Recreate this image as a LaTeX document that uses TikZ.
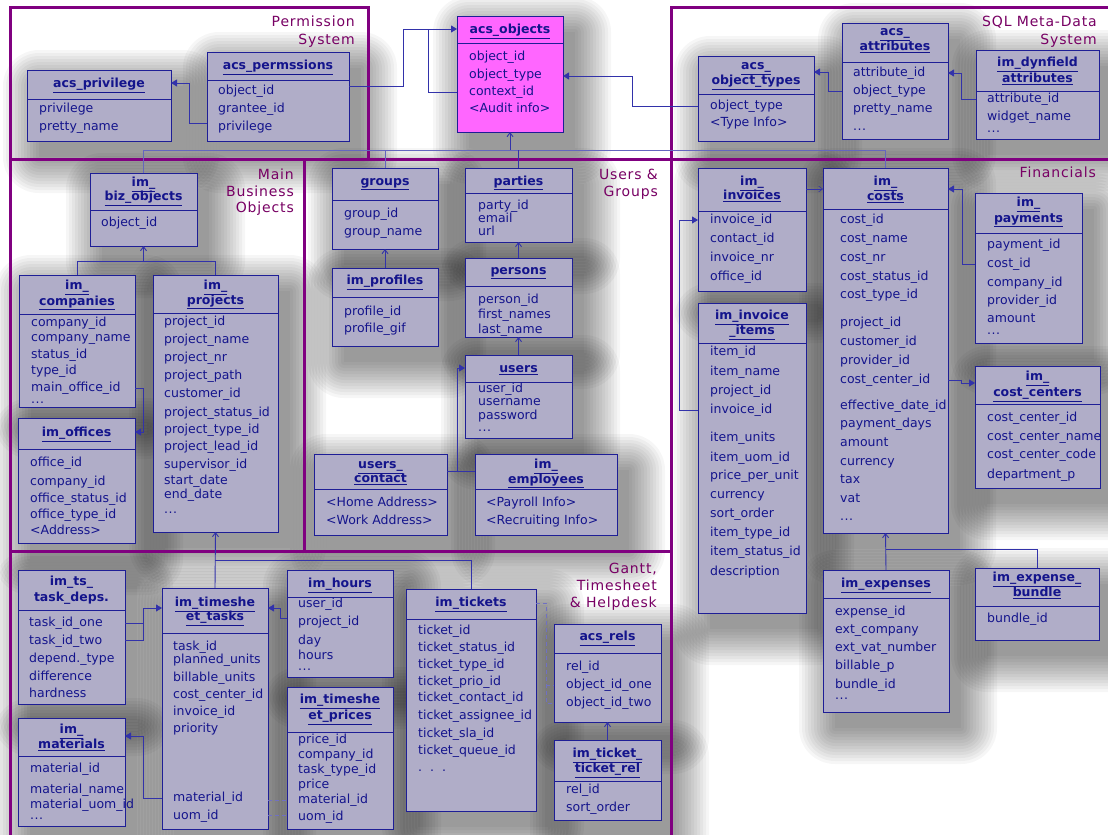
\documentclass[tikz,border=0pt]{standalone}
\usepackage{fontspec}
\setmainfont{DejaVu Sans}
\newfontfamily\secfont[LetterSpace=6]{DejaVu Sans}
\usetikzlibrary{arrows.meta}

\definecolor{boxfill}{RGB}{176,173,200}
\definecolor{boxline}{RGB}{30,30,150}
\definecolor{ink}{RGB}{20,20,140}
\definecolor{objfill}{RGB}{255,102,255}
\definecolor{framecol}{RGB}{128,0,128}
\definecolor{sectink}{RGB}{120,0,100}
\definecolor{linkcol}{RGB}{50,50,170}

\pgfdeclarelayer{bg}
\pgfdeclarelayer{shade}
\pgfsetlayers{bg,shade,main}

\tikzset{
  ebox/.style={draw=boxline, line width=1pt, fill=boxfill, inner sep=0pt, outer sep=0pt},
  softshade/.style={fill=black, fill opacity=0.034},
  eline/.style={draw=boxline, line width=1pt},
  hdr/.style={font=\fontsize{12.5}{14}\selectfont\bfseries, text=ink, inner sep=0pt,
    text height=1.5ex, text depth=.25ex},
  fld/.style={font=\fontsize{12.5}{14}\selectfont, text=ink, anchor=west, inner sep=0pt,
    text height=1.5ex, text depth=.25ex},
  sect/.style={font=\secfont\fontsize{14}{17}\selectfont, text=sectink, anchor=base east, inner sep=0pt},
  frameline/.style={draw=framecol, line width=3pt, line cap=rect},
  link/.style={draw=linkcol, line width=0.9pt},
  bus/.style={draw=linkcol!75, line width=0.9pt},
  fk/.style={link, -{Triangle[length=6pt,width=7pt]}},
  isa/.style={link, -{Straight Barb[length=4pt,width=6pt]}},
  ref/.style={draw=linkcol!70, line width=0.8pt, dash pattern=on 4pt off 3pt},
}

% table box: name, x1, y1, x2, y2, divider y, extra style
\newcommand\tbl[7]{%
  \begin{pgfonlayer}{shade}
    \foreach \r in {0,3,...,36}
      \fill[softshade, rounded corners=\r pt] ({#2+12-\r},{#3+16-\r}) rectangle ({#4+12+\r},{#5+16+\r});
  \end{pgfonlayer}
  \node[ebox,#7, anchor=north west, minimum width={(#4-#2)*1pt}, minimum height={(#5-#3)*1pt}] (#1) at (#2,#3) {};
  \draw[eline] (#2,#6) -- (#4,#6);}
% column list: name, x, {y/text, ...}
\newcommand\flds[3]{\foreach \yy/\txt [count=\k] in {#3} {\node[fld] (#1-\k) at (#2,\yy) {\txt};}}
\newcommand\hl[1]{\underline{#1}}
\newcommand\more{.\kern0.5pt.\kern0.5pt.}
\newcommand\spdots{.\ \ .\ \ .}

\begin{document}
\begin{tikzpicture}[x=1pt,y=-1pt]
\useasboundingbox (0,0) rectangle (1108,835);
\begin{pgfonlayer}{bg}
  \fill[white] (0,0) rectangle (1108,835);
\end{pgfonlayer}

% ---------- Permission System ----------
\tbl{acspriv}{27}{70}{171}{141}{99}{}
\node[hdr] (acspriv-h) at (acspriv.north |- 0,84) {\hl{acs\_privilege}};
\flds{acspriv}{39}{109/privilege, 127/pretty\_name}

\tbl{acsperm}{207}{52}{349}{141}{80}{}
\node[hdr] (acsperm-h) at (acsperm.north |- 0,66) {\hl{acs\_permssions}};
\flds{acsperm}{218}{91/object\_id, 109/grantee\_id, 127/privilege}

\tbl{acsobj}{457}{16}{563}{132}{43}{fill=objfill}
\node[hdr] (acsobj-h) at (acsobj.north |- 0,30) {\hl{acs\_objects}};
\flds{acsobj}{469}{57/object\_id, 75/object\_type, 92/context\_id, 109/<Audit info>}

% ---------- SQL Meta-Data System ----------
\tbl{acstypes}{698}{56}{814}{141}{94}{}
\node[hdr] (acstypes-h1) at (acstypes.north |- 0,66) {\hl{acs\_}};
\node[hdr] (acstypes-h2) at (acstypes.north |- 0,81) {\hl{object\_types}};
\flds{acstypes}{710}{106/object\_type, 123/<Type Info>}

\tbl{acsattr}{842}{23}{948}{139}{62}{}
\node[hdr] (acsattr-h1) at (acsattr.north |- 0,32) {\hl{acs\_}};
\node[hdr] (acsattr-h2) at (acsattr.north |- 0,47) {\hl{attributes}};
\flds{acsattr}{853}{73/attribute\_id, 91/object\_type, 109/pretty\_name, 127/\more}

\tbl{dynattr}{976}{50}{1099}{139}{91}{}
\node[hdr] (dynattr-h1) at (dynattr.north |- 0,63) {\hl{im\_dynfield}};
\node[hdr] (dynattr-h2) at (dynattr.north |- 0,79) {\hl{attributes}};
\flds{dynattr}{987}{99/attribute\_id, 117/widget\_name, 129/\more}

% ---------- Main Business Objects ----------
\tbl{bizobj}{90}{173}{197}{246}{210}{}
\node[hdr] (bizobj-h1) at (bizobj.north |- 0,183) {\hl{im\_}};
\node[hdr] (bizobj-h2) at (bizobj.north |- 0,197) {\hl{biz\_objects}};
\flds{bizobj}{101}{223/object\_id}

\tbl{companies}{19}{275}{135}{407}{314}{}
\node[hdr] (companies-h1) at (companies.north |- 0,286) {\hl{im\_}};
\node[hdr] (companies-h2) at (companies.north |- 0,302) {\hl{companies}};
\flds{companies}{31}{323/company\_id, 338/company\_name, 355/status\_id, 371/type\_id, 388/main\_office\_id, 400/\more}

\tbl{projects}{153}{275}{278}{532}{313}{}
\node[hdr] (projects-h1) at (projects.north |- 0,286) {\hl{im\_}};
\node[hdr] (projects-h2) at (projects.north |- 0,301) {\hl{projects}};
\flds{projects}{164}{322/project\_id, 340/project\_name, 358/project\_nr, 376/project\_path, 394/customer\_id, 413/project\_status\_id, 430/project\_type\_id, 447/project\_lead\_id, 465/supervisor\_id, 481/start\_date, 495/end\_date, 510/\more}

\tbl{offices}{18}{418}{135}{543}{449}{}
\node[hdr] (offices-h) at (offices.north |- 0,433) {\hl{im\_offices}};
\flds{offices}{30}{463/office\_id, 482/company\_id, 499/office\_status\_id, 515/office\_type\_id, 531/<Address>}

% ---------- Users & Groups ----------
\tbl{groups}{332}{168}{438}{249}{200}{}
\node[hdr] (groups-h) at (groups.north |- 0,182) {\hl{groups}};
\flds{groups}{344}{214/group\_id, 232/group\_name}

\tbl{parties}{465}{168}{572}{242}{193}{}
\node[hdr] (parties-h) at (parties.north |- 0,182) {\hl{parties}};
\flds{parties}{478}{206/party\_id, 219/email, 232/url}

\tbl{profiles}{332}{268}{438}{346}{297}{}
\node[hdr] (profiles-h) at (profiles.north |- 0,281) {\hl{im\_profiles}};
\flds{profiles}{344}{312/profile\_id, 329/profile\_gif}

\tbl{persons}{465}{258}{572}{337}{286}{}
\node[hdr] (persons-h) at (persons.north |- 0,271) {\hl{persons}};
\flds{persons}{478}{300/person\_id, 315/first\_names, 330/last\_name}

\tbl{users}{465}{355}{572}{438}{382}{}
\node[hdr] (users-h) at (users.north |- 0,369) {\hl{users}};
\flds{users}{478}{389/user\_id, 402/username, 416/password, 428/\more}

\tbl{ucontact}{314}{454}{447}{535}{489}{}
\node[hdr] (ucontact-h1) at (ucontact.north |- 0,465) {\hl{users\_}};
\node[hdr] (ucontact-h2) at (ucontact.north |- 0,479) {\hl{contact}};
\flds{ucontact}{326}{503/<Home Address>, 521/<Work Address>}

\tbl{employees}{475}{454}{617}{535}{489}{}
\node[hdr] (employees-h1) at (employees.north |- 0,465) {\hl{im\_}};
\node[hdr] (employees-h2) at (employees.north |- 0,480) {\hl{employees}};
\flds{employees}{486}{503/<Payroll Info>, 521/<Recruiting Info>}

% ---------- Financials ----------
\tbl{invoices}{698}{168}{806}{291}{211}{}
\node[hdr] (invoices-h1) at (invoices.north |- 0,182) {\hl{im\_}};
\node[hdr] (invoices-h2) at (invoices.north |- 0,196) {\hl{invoices}};
\flds{invoices}{710}{220/invoice\_id, 239/contact\_id, 258/invoice\_nr, 277/office\_id}

\tbl{invitems}{698}{303}{806}{613}{343}{}
\node[hdr] (invitems-h1) at (invitems.north |- 0,316) {\hl{im\_invoice}};
\node[hdr] (invitems-h2) at (invitems.north |- 0,331) {\hl{\_items}};
\flds{invitems}{710}{352/item\_id, 372/item\_name, 391/project\_id, 410/invoice\_id, 438/item\_units, 458/item\_uom\_id, 476/price\_per\_unit, 495/currency, 514/sort\_order, 533/item\_type\_id, 552/item\_status\_id, 572/description}

\tbl{costs}{823}{168}{948}{533}{209}{}
\node[hdr] (costs-h1) at (costs.north |- 0,182) {\hl{im\_}};
\node[hdr] (costs-h2) at (costs.north |- 0,197) {\hl{costs}};
\flds{costs}{840}{220/cost\_id, 239/cost\_name, 258/cost\_nr, 277/cost\_status\_id, 295/cost\_type\_id, 323/project\_id, 342/customer\_id, 361/provider\_id, 380/cost\_center\_id, 406/effective\_date\_id, 424/payment\_days, 443/amount, 462/currency, 480/tax, 499/vat, 517/\more}

\tbl{payments}{975}{193}{1082}{343}{233}{}
\node[hdr] (payments-h1) at (payments.north |- 0,203) {\hl{im\_}};
\node[hdr] (payments-h2) at (payments.north |- 0,219) {\hl{payments}};
\flds{payments}{987}{245/payment\_id, 264/cost\_id, 283/company\_id, 301/provider\_id, 319/amount, 331/\more}

\tbl{costctr}{975}{366}{1100}{488}{404}{}
\node[hdr] (costctr-h1) at (costctr.north |- 0,377) {\hl{im\_}};
\node[hdr] (costctr-h2) at (costctr.north |- 0,393) {\hl{cost\_centers}};
\flds{costctr}{987}{418/cost\_center\_id, 437/cost\_center\_name, 455/cost\_center\_code, 475/department\_p}

\tbl{expenses}{823}{570}{949}{712}{598}{}
\node[hdr] (expenses-h) at (expenses.north |- 0,584) {\hl{im\_expenses}};
\flds{expenses}{835}{612/expense\_id, 630/ext\_company, 648/ext\_vat\_number, 666/billable\_p, 685/bundle\_id, 696/\more}

\tbl{bundle}{975}{568}{1099}{640}{606}{}
\node[hdr] (bundle-h1) at (bundle.north |- 0,578) {\hl{im\_expense\_}};
\node[hdr] (bundle-h2) at (bundle.north |- 0,593) {\hl{bundle}};
\flds{bundle}{987}{619/bundle\_id}

% ---------- Gantt, Timesheet & Helpdesk ----------
\tbl{taskdeps}{18}{570}{125}{704}{610}{}
\node[hdr] (taskdeps-h1) at (taskdeps.north |- 0,582) {im\_ts\_};
\node[hdr] (taskdeps-h2) at (taskdeps.north |- 0,598) {task\_deps.};
\flds{taskdeps}{29}{623/task\_id\_one, 641/task\_id\_two, 659/depend.\_type, 677/difference, 694/hardness}

\tbl{tstasks}{162}{588}{268}{829}{633}{}
\node[hdr] (tstasks-h1) at (tstasks.north |- 0,603) {\hl{im\_timeshe}};
\node[hdr] (tstasks-h2) at (tstasks.north |- 0,617) {\hl{et\_tasks}};
\flds{tstasks}{173}{647/task\_id, 660/planned\_units, 678/billable\_units, 695/cost\_center\_id, 712/invoice\_id, 729/priority, 798/material\_id, 816/uom\_id}

\tbl{hours}{287}{570}{393}{677}{597}{}
\node[hdr] (hours-h) at (hours.north |- 0,584) {\hl{im\_hours}};
\flds{hours}{298}{604/user\_id, 622/project\_id, 641/day, 656/hours, 667/\more}

\tbl{materials}{18}{718}{125}{826}{756}{}
\node[hdr] (materials-h1) at (materials.north |- 0,730) {\hl{im\_}};
\node[hdr] (materials-h2) at (materials.north |- 0,745) {\hl{materials}};
\flds{materials}{30}{769/material\_id, 790/material\_name, 805/material\_uom\_id, 816/\more}

\tbl{prices}{287}{687}{393}{829}{732}{}
\node[hdr] (prices-h1) at (prices.north |- 0,700) {\hl{im\_timeshe}};
\node[hdr] (prices-h2) at (prices.north |- 0,716) {\hl{et\_prices}};
\flds{prices}{298}{740/price\_id, 755/company\_id, 770/task\_type\_id, 785/price, 800/material\_id, 817/uom\_id}

\tbl{tickets}{406}{589}{536}{811}{619}{}
\node[hdr] (tickets-h) at (tickets.north |- 0,603) {\hl{im\_tickets}};
\flds{tickets}{418}{631/ticket\_id, 648/ticket\_status\_id, 665/ticket\_type\_id, 682/ticket\_prio\_id, 698/ticket\_contact\_id, 716/ticket\_assignee\_id, 734/ticket\_sla\_id, 751/ticket\_queue\_id, 768/\spdots}

\tbl{acsrels}{554}{624}{661}{722}{653}{}
\node[hdr] (acsrels-h) at (acsrels.north |- 0,637) {\hl{acs\_rels}};
\flds{acsrels}{566}{667/rel\_id, 685/object\_id\_one, 703/object\_id\_two}

\tbl{tktrel}{554}{740}{661}{820}{781}{}
\node[hdr] (tktrel-h1) at (tktrel.north |- 0,754) {\hl{im\_ticket\_}};
\node[hdr] (tktrel-h2) at (tktrel.north |- 0,769) {\hl{ticket\_rel}};
\flds{tktrel}{566}{790/rel\_id, 808/sort\_order}

% ---------- section frames ----------
\draw[frameline] (10,835) -- (10,7) -- (368,7) -- (368,159);
\draw[frameline] (1108,7) -- (671,7) -- (671,835);
\draw[frameline] (10,159) -- (1108,159);
\draw[frameline] (304,159) -- (304,551);
\draw[frameline] (10,551) -- (671,551);

% section titles
\node[sect] (t-perm1) at (355,27) {Permission};
\node[sect] (t-perm2) at (355,44) {System};
\node[sect] (t-sql1) at (1097,27) {SQL Meta-Data};
\node[sect] (t-sql2) at (1097,44) {System};
\node[sect] (t-main1) at (294,179) {Main};
\node[sect] (t-main2) at (294,196) {Business};
\node[sect] (t-main3) at (294,212) {Objects};
\node[sect] (t-users1) at (658,179) {Users \&};
\node[sect] (t-users2) at (658,196) {Groups};
\node[sect] (t-fin) at (1096,177) {Financials};
\node[sect] (t-gantt1) at (657,573) {Gantt,};
\node[sect] (t-gantt2) at (657,590) {Timesheet};
\node[sect] (t-gantt3) at (657,607) {\& Helpdesk};

% ---------- connectors ----------
\draw[fk] (acsperm.west |- 0,123) -- (189,123) -- (189,83) -- (acspriv.east |- 0,83);
\draw[fk] (acsperm.east |- 0,86) -- (403,86) -- (403,29) -- (acsobj.west |- 0,29);
\draw[link] (acsobj.west |- 0,92) -- (428,92) -- (428,29);
\draw[fk] (acstypes.west |- 0,106) -- (632,106) -- (632,76) -- (acsobj.east |- 0,76);
\draw[fk] (acsattr.west |- 0,91) -- (828,91) -- (828,72) -- (acstypes.east |- 0,72);
\draw[fk] (dynattr.west |- 0,99) -- (961,99) -- (961,73) -- (acsattr.east |- 0,73);

% object supertype bus
\draw[bus] (bizobj.north) |- (costs.north |- 0,150) -- (costs.north);
\draw[bus] (groups.north) -- (groups.north |- 0,150);
\draw[link] (parties.north) -- (parties.north |- 0,150);
\draw[isa] (acsobj.south |- 0,150) -- (acsobj.south);

\draw[isa] (bizobj.south |- 0,261) -- (bizobj.south);
\draw[link] (companies.north) |- (projects.north |- 0,261) -- (projects.north);
\draw[fk] (companies.east |- 0,388) -- (143,388) -- (143,432) -- (offices.east |- 0,432);

\draw[isa] (profiles.north) -- (groups.south);
\draw[isa] (persons.north) -- (parties.south);
\draw[isa] (users.north) -- (persons.south);
\draw[link] (ucontact.east |- 0,471) -- (employees.west |- 0,471);
\draw[fk] (457,471) -- (457,368) -- (users.west |- 0,368);

\draw[fk] (invitems.west |- 0,410) -- (679,410) -- (679,220) -- (invoices.west |- 0,220);
\draw[isa, line width=0.6pt] (invoices.east |- 0,189) -- (costs.west |- 0,189);
\draw[fk] (payments.west |- 0,264) -- (962,264) -- (962,189) -- (costs.east |- 0,189);
\draw[fk] (costs.east |- 0,380) -- (961,380) -- (961,383) -- (costctr.west |- 0,383);
\draw[isa] (expenses.north) -- (costs.south);
\draw[link] (bundle.north) |- (expenses.north |- 0,549);

\draw[isa] (tstasks.north) -- (projects.south);
\draw[link] (tstasks.north |- 0,560) -| (tickets.north);
\draw[link] (taskdeps.east |- 0,623) -- (143,623);
\draw[fk] (taskdeps.east |- 0,640) -- (143,640) -- (143,608) -- (tstasks.west |- 0,608);
\draw[fk] (hours.west |- 0,618) -- (280,618) -- (280,608) -- (tstasks.east |- 0,608);
\draw[fk] (tstasks.west |- 0,798) -- (143,798) -- (143,736) -- (materials.east |- 0,736);
\draw[ref] (tstasks.east |- 0,800) -- (prices.west |- 0,800);
\draw[ref] (tstasks.east |- 0,815) -- (prices.west |- 0,815);
\draw[ref] (tickets.east |- 0,603) -- (546,603) -- (546,703) -- (acsrels.west |- 0,703);
\draw[ref] (546,685) -- (acsrels.west |- 0,685);
\draw[isa] (tktrel.north) -- (acsrels.south);
\end{tikzpicture}
\end{document}
